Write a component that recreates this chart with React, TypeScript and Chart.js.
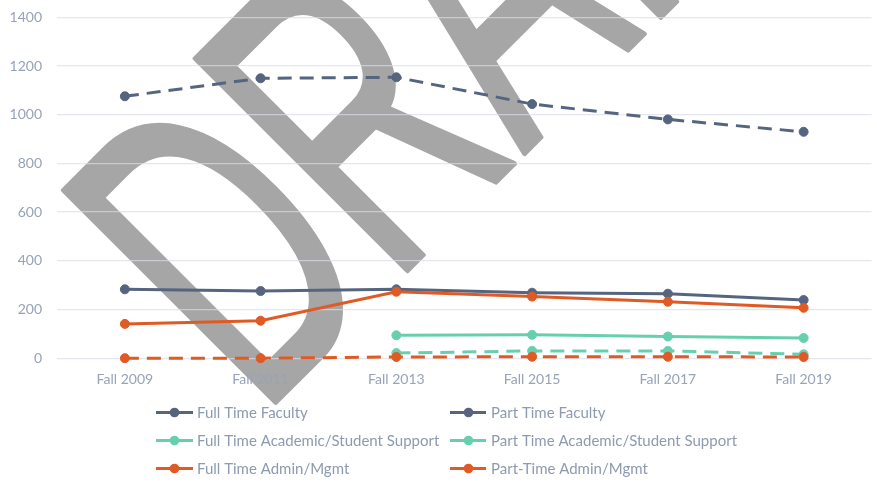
import React, { useEffect, useRef } from "react";
import { Chart, registerables } from "chart.js";

Chart.register(...registerables);

const categories = ["Fall 2009", "Fall 2011", "Fall 2013", "Fall 2015", "Fall 2017", "Fall 2019"];
const ftFaculty = [283, 276, 283, 269, 265, 239];
const ptFaculty = [1076, 1150, 1154, 1044, 981, 930];
const ftAcademic = [null, null, 94, 96, 89, 83];
const ptAcademic = [null, null, 21, 30, 30, 16];
const ftAdmin = [141, 154, 273, 253, 232, 207];
const ptAdmin = [0, 0, 5, 6, 6, 5];

const seriesLabels = [
  "Full Time Faculty",
  "Part Time Faculty",
  "Full Time Academic/Student Support",
  "Part Time Academic/Student Support",
  "Full Time Admin/Mgmt",
  "Part-Time Admin/Mgmt",
];
const yTicks = [0, 200, 400, 600, 800, 1000, 1200, 1400];
const watermarkText = "DRAFT";

const SLATE = "#56657f";
const TEAL = "#68cfae";
const ORANGE = "#df5a24";
const DASH = [14, 8];
const SHIFT = 6; // canvas is placed 6px above the page top

const watermarkPlugin = {
  id: "watermark",
  beforeDraw(chart: any) {
    const ctx = chart.ctx;
    ctx.save();
    ctx.translate(260, 418 + SHIFT);
    ctx.rotate(-Math.PI / 4);
    ctx.scale(1, 1.69);
    ctx.font = "258px 'Liberation Sans', Arial, sans-serif";
    ctx.fillStyle = "#a6a6a6";
    ctx.strokeStyle = "#a6a6a6";
    ctx.lineJoin = "round";
    ctx.lineWidth = 3;
    ctx.textBaseline = "alphabetic";
    ctx.textAlign = "left";
    ctx.fillText(watermarkText, 0, 0);
    ctx.strokeText(watermarkText, 0, 0);
    ctx.restore();
  },
};

const legendPlugin = {
  id: "customLegend",
  afterDraw(chart: any) {
    const ctx = chart.ctx;
    const colX = [156, 450];
    const rowY = [412.5 + SHIFT, 440.5 + SHIFT, 468.5 + SHIFT];
    ctx.save();
    chart.data.datasets.forEach((ds: any, i: number) => {
      const x = colX[i % 2];
      const y = rowY[Math.floor(i / 2)];
      ctx.strokeStyle = ds.borderColor;
      ctx.lineWidth = 3;
      ctx.setLineDash(ds.borderDash || []);
      ctx.beginPath();
      ctx.moveTo(x, y);
      ctx.lineTo(x + 37, y);
      ctx.stroke();
      ctx.setLineDash([]);
      ctx.fillStyle = ds.borderColor;
      ctx.beginPath();
      ctx.arc(x + 18.5, y, 4.8, 0, Math.PI * 2);
      ctx.fill();
      ctx.fillStyle = "#8e9ab0";
      ctx.font = "15px Lato, sans-serif";
      ctx.textBaseline = "middle";
      ctx.textAlign = "left";
      ctx.fillText(ds.label, x + 41, y + 0.5);
    });
    ctx.restore();
  },
};

function makeDataset(i: number, data: (number | null)[], color: string, dashed: boolean) {
  return {
    label: seriesLabels[i],
    data,
    borderColor: color,
    backgroundColor: color,
    pointBackgroundColor: color,
    pointBorderColor: color,
    borderWidth: 3,
    borderDash: dashed ? DASH : [],
    pointRadius: 4.5,
    pointBorderWidth: 1,
    pointStyle: "circle",
    tension: 0,
    fill: false,
    clip: false,
    order: 6 - i,
  };
}

export default function App() {
  const ref = useRef<HTMLCanvasElement | null>(null);

  useEffect(() => {
    document.body.style.margin = "0";
    const canvas = ref.current;
    if (!canvas) return;
    const chart = new Chart(canvas, {
      type: "line",
      data: {
        labels: categories,
        datasets: [
          makeDataset(0, ftFaculty, SLATE, false),
          makeDataset(1, ptFaculty, SLATE, true),
          makeDataset(2, ftAcademic, TEAL, false),
          makeDataset(3, ptAcademic, TEAL, true),
          makeDataset(4, ftAdmin, ORANGE, false),
          makeDataset(5, ptAdmin, ORANGE, true),
        ],
      },
      options: {
        responsive: false,
        animation: false,
        layout: { padding: { top: 11, right: 3, bottom: 92, left: 0 } },
        plugins: {
          legend: { display: false },
          tooltip: { enabled: false },
        },
        scales: {
          x: {
            offset: true,
            grid: { display: false },
            border: { display: false },
            ticks: {
              color: "#98a3b8",
              font: { family: "Lato, sans-serif", size: 14 },
              padding: 5,
              maxRotation: 0,
            },
          },
          y: {
            min: 0,
            max: 1400,
            afterFit: (scale: any) => {
              scale.width = 57;
            },
            afterBuildTicks: (scale: any) => {
              scale.ticks = yTicks.map((v) => ({ value: v }));
            },
            grid: {
              color: "rgba(218,220,234,0.7)",
              lineWidth: 1.3,
              drawTicks: false,
            },
            border: { display: false },
            ticks: {
              color: "#98a3b8",
              font: { family: "Lato, sans-serif", size: 14 },
              padding: 15,
              callback: (v: any) => String(v),
            },
          },
        },
      },
      plugins: [watermarkPlugin, legendPlugin],
    });
    return () => chart.destroy();
  }, []);

  return (
    <div style={{ position: "absolute", left: 0, top: -SHIFT, width: 877, height: 485 + SHIFT, overflow: "hidden" }}>
      <canvas ref={ref} width={877} height={485 + SHIFT} style={{ display: "block" }} />
    </div>
  );
}
